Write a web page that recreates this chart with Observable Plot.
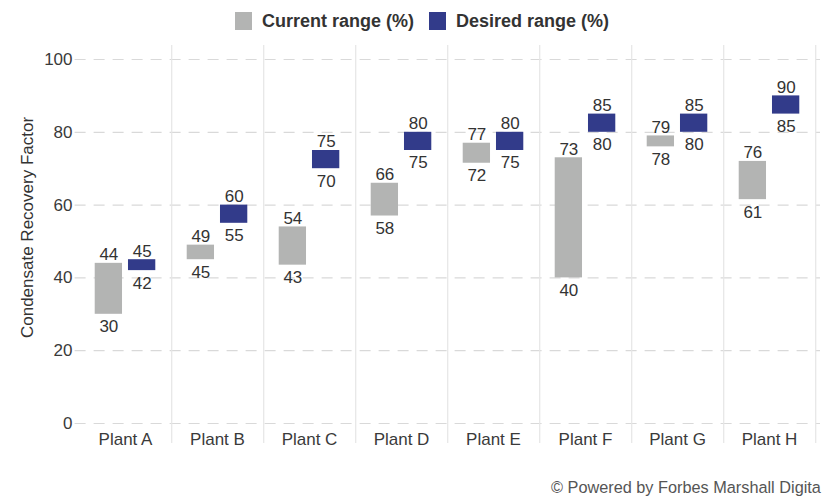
<!DOCTYPE html>
<html>
<head>
<meta charset="utf-8">
<script src="https://cdn.jsdelivr.net/npm/d3@7"></script>
<script src="https://cdn.jsdelivr.net/npm/@observablehq/plot@0.6"></script>
<style>
  html, body { margin: 0; padding: 0; background: #fff; }
  body { width: 824px; height: 499px; overflow: hidden; position: relative; font-family: "Liberation Sans", Arial, sans-serif; }
  #legend { position: absolute; left: 235px; top: 12px; display: flex; align-items: center; font-weight: bold; font-size: 18px; color: #333; white-space: nowrap; }
  .sw { width: 17px; height: 18px; display: inline-block; margin-right: 10px; }
  .item { display: flex; align-items: center; margin-right: 15px; line-height: 18px; }
  #chart { position: absolute; left: 0; top: 40px; }
  #caption { position: absolute; left: 551px; top: 478px; font-size: 16.3px; color: #555; white-space: nowrap; }
  #edge { position: absolute; left: -10px; top: 127.5px; font-size: 29px; line-height: 29px; color: #333; }
</style>
</head>
<body>
<div id="edge">n</div>
<div id="legend"></div>
<div id="chart"></div>
<div id="caption">© Powered by Forbes Marshall Digita</div>
<script>
const plants = ["Plant A", "Plant B", "Plant C", "Plant D", "Plant E", "Plant F", "Plant G", "Plant H"];
// bar extents as drawn in the picture
const currentLow  = [30, 45, 43.5, 57, 71.5, 40, 76, 61.5];
const currentHigh = [44, 49, 54, 66, 77, 73, 79, 72];
const desiredLow  = [42, 55, 70, 75, 75, 80, 80, 85];
const desiredHigh = [45, 60, 75, 80, 80, 85, 85, 90];
// value labels as printed
const currentLowLabel  = [30, 45, 43, 58, 72, 40, 78, 61];
const currentHighLabel = [44, 49, 54, 66, 77, 73, 79, 76];
const desiredLowLabel  = [42, 55, 70, 75, 75, 80, 80, 85];
const desiredHighLabel = [45, 60, 75, 80, 80, 85, 85, 90];
const yTicks = [0, 20, 40, 60, 80, 100];
const seriesNames = ["Current range (%)", "Desired range (%)"];
const seriesColors = ["#b3b4b3", "#323b8a"];
const yTitle = "Condensate Recovery Factor";

const current = plants.map((p, i) => ({plant: p, low: currentLow[i], high: currentHigh[i], lowLabel: currentLowLabel[i], highLabel: currentHighLabel[i]}));
const desired = plants.map((p, i) => ({plant: p, low: desiredLow[i], high: desiredHigh[i], lowLabel: desiredLowLabel[i], highLabel: desiredHighLabel[i]}));

const W = 824, H = 430, mL = 77.6, mR = 7, mT = 19, mB = 47;
const bw = (W - mL - mR) / plants.length;
const barW = 0.3 * bw, outer = 0.17 * bw;
const offC = outer + barW / 2 - bw / 2;
const offD = bw / 2 - outer - barW / 2;
const txt = "#333";

const chart = Plot.plot({
  width: W, height: H,
  marginLeft: mL, marginRight: mR, marginTop: mT, marginBottom: mB,
  style: {fontFamily: "'Liberation Sans', Arial, sans-serif", fontSize: "17px", color: "#3a3a3a", background: "#fff"},
  x: {type: "band", domain: plants, padding: 0},
  y: {domain: [0, 100]},
  marks: [
    Plot.ruleY(yTicks, {y: d => d, stroke: "#d9d9d9", strokeWidth: 1.2, strokeDasharray: "11,8", insetLeft: -3, insetRight: -3}),
    Plot.ruleX(plants, {x: d => d, dx: bw / 2, stroke: "#e6e6e6", strokeWidth: 1.2, insetTop: -14, insetBottom: -20}),
    Plot.barY(current, {x: "plant", y1: "low", y2: "high", fill: seriesColors[0], insetLeft: outer, insetRight: bw - outer - barW}),
    Plot.barY(desired, {x: "plant", y1: "low", y2: "high", fill: seriesColors[1], insetLeft: bw - outer - barW, insetRight: outer}),
    Plot.text(current, {x: "plant", y: "high", text: "highLabel", dx: offC, dy: -8.5, fill: txt, fontSize: 17}),
    Plot.text(current, {x: "plant", y: "low", text: "lowLabel", dx: offC, dy: 12.5, fill: txt, fontSize: 17}),
    Plot.text(desired, {x: "plant", y: "high", text: "highLabel", dx: offD, dy: -8.5, fill: txt, fontSize: 17}),
    Plot.text(desired, {x: "plant", y: "low", text: "lowLabel", dx: offD, dy: 12.5, fill: txt, fontSize: 17}),
    Plot.axisY({ticks: yTicks, tickSize: 0, tickPadding: 5.6, label: null}),
    Plot.axisX({tickSize: 0, tickPadding: 9, label: null}),
    Plot.text([yTitle], {frameAnchor: "left", textAnchor: "middle", text: d => d, rotate: -90, dx: -51, dy: -14, fill: txt, fontSize: 17})
  ]
});
document.getElementById("chart").appendChild(chart);

const legend = document.getElementById("legend");
seriesNames.forEach((name, i) => {
  const item = document.createElement("span");
  item.className = "item";
  const sw = document.createElement("span");
  sw.className = "sw";
  sw.style.background = seriesColors[i];
  item.appendChild(sw);
  item.appendChild(document.createTextNode(name));
  legend.appendChild(item);
});
</script>
</body>
</html>
